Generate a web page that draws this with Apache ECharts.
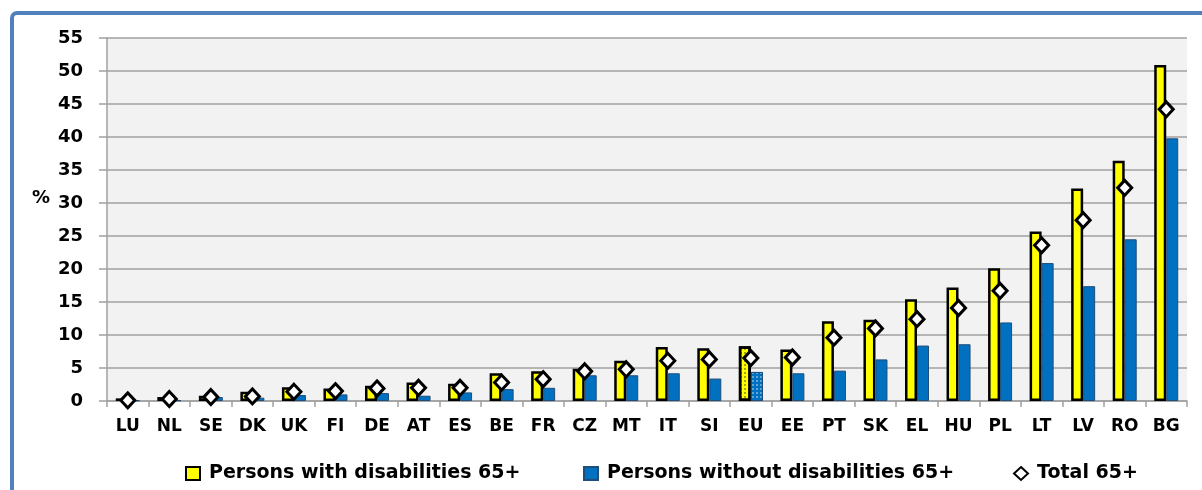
<!DOCTYPE html>
<html>
<head>
<meta charset="utf-8">
<script src="https://cdn.jsdelivr.net/npm/echarts@6/dist/echarts.min.js"></script>
<style>
  html, body { margin: 0; padding: 0; background: #fff; }
  #chart { width: 1202px; height: 490px; }
</style>
</head>
<body>
<div id="chart"></div>
<script>
// categories, ordered as in the source
const countries = ["LU", "NL", "SE", "DK", "UK", "FI", "DE", "AT", "ES", "BE", "FR", "CZ", "MT",
  "IT", "SI", "EU", "EE", "PT", "SK", "EL", "HU", "PL", "LT", "LV", "RO", "BG"];

// % of persons 65+
const withDisab = [0.4, 0.6, 0.8, 1.4, 2.1, 1.9, 2.3, 2.8, 2.6, 4.2, 4.5, 4.9, 6.1,
  8.2, 8.0, 8.3, 7.8, 12.1, 12.3, 15.4, 17.2, 20.1, 25.7, 32.2, 36.4, 50.9];
const withoutDisab = [0.1, 0.1, 0.6, 0.5, 0.9, 1.0, 1.2, 0.8, 1.3, 1.8, 2.0, 3.9, 3.9,
  4.2, 3.4, 4.4, 4.2, 4.6, 6.3, 8.4, 8.6, 11.9, 20.9, 17.4, 24.5, 39.8];
const total = [0.1, 0.3, 0.6, 0.7, 1.4, 1.5, 1.9, 2.0, 2.0, 2.8, 3.3, 4.5, 4.8,
  6.1, 6.3, 6.5, 6.6, 9.6, 11.0, 12.4, 14.1, 16.7, 23.6, 27.4, 32.3, 44.2];

const yTicks = { min: 0, max: 55, step: 5 };

const names = ["Persons with disabilities 65+", "Persons without disabilities 65+", "Total 65+"];

// EU average gets a dotted fill
const euIdx = countries.indexOf("EU");
function markEU(arr, decal) {
  return arr.map((v, i) => i === euIdx ? { value: v, itemStyle: { decal: decal } } : v);
}

const axisFont = { fontFamily: "DejaVu Sans", fontWeight: "bold", fontSize: 17, color: "#000" };
const legendFont = {
  fontFamily: "DejaVu Sans", fontWeight: "bold", fontSize: 19, color: "#000",
  padding: [0, 0, 0, 4]
};

const chart = echarts.init(document.getElementById("chart"));

function legendAt(name, left, icon) {
  const l = {
    data: [name], left: left, top: 464, padding: 0,
    itemWidth: 14, itemHeight: 13, textStyle: legendFont
  };
  if (icon) l.icon = icon;
  return l;
}

const option = {
  animation: false,
  backgroundColor: "#fff",
  title: {
    text: "%",
    left: 32,
    top: 189,
    padding: 0,
    textStyle: Object.assign({}, axisFont, { fontSize: 18 })
  },
  graphic: [
    {
      type: "rect",
      shape: { x: 12, y: 13, width: 1260, height: 600, r: 5 },
      style: { fill: "none", stroke: "#4f81bd", lineWidth: 4 },
      silent: true
    }
  ],
  legend: [
    legendAt(names[0], 185, "rect"),
    legendAt(names[1], 583, "rect"),
    legendAt(names[2], 1013)
  ],
  grid: {
    left: 107, right: 15, top: 38, bottom: 89,
    show: true, backgroundColor: "#f2f2f2", borderWidth: 0
  },
  xAxis: {
    type: "category",
    data: countries,
    axisLine: { lineStyle: { color: "#a0a0a0", width: 1.5 } },
    axisTick: { show: true, length: 6, lineStyle: { color: "#a0a0a0", width: 1.5 } },
    axisLabel: Object.assign({ margin: 17, interval: 0 }, axisFont)
  },
  yAxis: {
    type: "value",
    min: yTicks.min, max: yTicks.max, interval: yTicks.step,
    axisLine: { show: true, lineStyle: { color: "#a0a0a0", width: 1.5 } },
    axisTick: { show: true, length: 8, lineStyle: { color: "#a0a0a0", width: 1.5 } },
    splitLine: { lineStyle: { color: "#a0a0a0", width: 1.5 } },
    axisLabel: Object.assign({ margin: 24 }, axisFont, { fontSize: 18 })
  },
  series: [
    {
      name: names[0],
      type: "bar",
      barWidth: 12,
      barGap: "0%",
      itemStyle: { color: "#ffff00", borderColor: "#000", borderWidth: 2.5 },
      data: markEU(withDisab, {
        symbol: "circle", symbolSize: 0.8, color: "rgba(0,0,0,0.8)",
        dashArrayX: [[2, 2]], dashArrayY: [2, 2]
      })
    },
    {
      name: names[1],
      type: "bar",
      barWidth: 12,
      itemStyle: { color: "#0070c0", borderColor: "#1f4e79", borderWidth: 1 },
      data: markEU(withoutDisab, {
        symbol: "circle", symbolSize: 0.8, color: "rgba(255,255,255,0.85)",
        dashArrayX: [[2, 2]], dashArrayY: [2, 2]
      })
    },
    {
      name: names[2],
      type: "scatter",
      symbol: "diamond",
      symbolSize: [14, 15],
      z: 5,
      itemStyle: { color: "#fff", borderColor: "#000", borderWidth: 3, opacity: 1 },
      data: total
    }
  ]
};

chart.setOption(option);
</script>
</body>
</html>
